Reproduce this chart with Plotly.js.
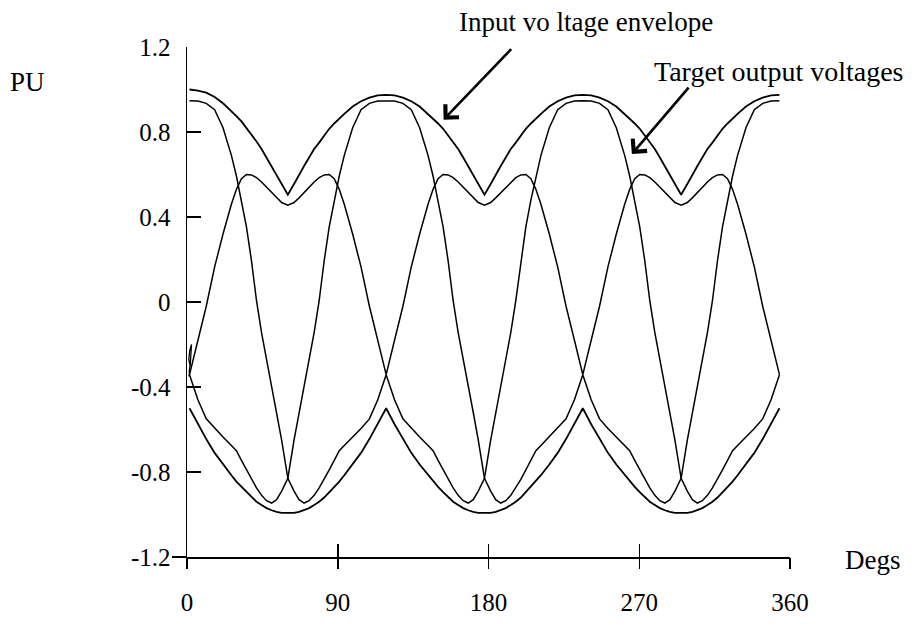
<!DOCTYPE html>
<html>
<head>
<meta charset="utf-8">
<script src="https://cdn.plot.ly/plotly-3.0.1.min.js"></script>
<style>html,body{margin:0;padding:0;background:#fff;}#chart{width:917px;height:627px;}</style>
</head>
<body>
<div id="chart"></div>
<script>
// Angle axis values (Degs)
const xDeg = [
  1.5, 6.5, 11.5, 16.5, 21.5, 26.5, 29.5, 32.5, 35.5, 38.5, 41.5, 44.5, 47.5, 50.5, 53.5, 56.5,
  60.2, 63.9, 66.9, 69.9, 72.9, 75.9, 78.9, 81.9, 84.9, 87.9, 90.9, 93.9, 98.9, 103.9, 108.9, 113.9,
  118.9, 123.9, 128.9, 133.9, 138.9, 143.9, 146.9, 149.9, 152.9, 155.9, 158.9, 161.9, 164.9, 167.9, 170.9, 173.9,
  177.6, 181.3, 184.3, 187.3, 190.3, 193.3, 196.3, 199.3, 202.3, 205.3, 208.3, 211.3, 216.3, 221.3, 226.3, 231.3,
  236.3, 241.3, 246.3, 251.3, 256.3, 261.3, 264.3, 267.3, 270.3, 273.3, 276.3, 279.3, 282.3, 285.3, 288.3, 291.3,
  295.0, 298.7, 301.7, 304.7, 307.7, 310.7, 313.7, 316.7, 319.7, 322.7, 325.7, 328.7, 333.7, 338.7, 343.7, 348.7,
  353.7
];

// Input voltage envelope (upper)
const envUpper = [
  1.0, 0.995, 0.985, 0.965, 0.935, 0.90, 0.875, 0.85, 0.82, 0.79, 0.755, 0.72, 0.68, 0.64, 0.60, 0.555,
  0.505, 0.555, 0.60, 0.64, 0.68, 0.72, 0.75, 0.785, 0.815, 0.84, 0.865, 0.885, 0.92, 0.945, 0.962, 0.972,
  0.975, 0.972, 0.962, 0.945, 0.92, 0.885, 0.865, 0.84, 0.815, 0.785, 0.75, 0.72, 0.68, 0.64, 0.60, 0.555,
  0.505, 0.555, 0.60, 0.64, 0.68, 0.72, 0.75, 0.785, 0.815, 0.84, 0.865, 0.885, 0.92, 0.945, 0.962, 0.972,
  0.975, 0.972, 0.962, 0.945, 0.92, 0.885, 0.865, 0.84, 0.815, 0.785, 0.75, 0.72, 0.68, 0.64, 0.60, 0.555,
  0.505, 0.555, 0.60, 0.64, 0.68, 0.72, 0.75, 0.785, 0.815, 0.84, 0.865, 0.885, 0.92, 0.945, 0.962, 0.972,
  0.975
];

// Input voltage envelope (lower)
const envLower = [
  -0.50, -0.575, -0.645, -0.71, -0.765, -0.815, -0.845, -0.87, -0.895, -0.92, -0.94, -0.955, -0.97, -0.98, -0.988, -0.992,
  -0.993, -0.992, -0.988, -0.98, -0.97, -0.955, -0.94, -0.92, -0.895, -0.87, -0.845, -0.815, -0.765, -0.71, -0.645, -0.575,
  -0.50, -0.575, -0.645, -0.71, -0.765, -0.815, -0.845, -0.87, -0.895, -0.92, -0.94, -0.955, -0.97, -0.98, -0.988, -0.992,
  -0.993, -0.992, -0.988, -0.98, -0.97, -0.955, -0.94, -0.92, -0.895, -0.87, -0.845, -0.815, -0.765, -0.71, -0.645, -0.575,
  -0.50, -0.575, -0.645, -0.71, -0.765, -0.815, -0.845, -0.87, -0.895, -0.92, -0.94, -0.955, -0.97, -0.98, -0.988, -0.992,
  -0.993, -0.992, -0.988, -0.98, -0.97, -0.955, -0.94, -0.92, -0.895, -0.87, -0.845, -0.815, -0.765, -0.71, -0.645, -0.575,
  -0.50
];

// Target output voltages, three phases
const outA = [
  0.947, 0.946, 0.935, 0.905, 0.82, 0.69, 0.593, 0.479, 0.354, 0.194, 0.006, -0.144, -0.266, -0.39, -0.52, -0.65,
  -0.83, -0.89, -0.93, -0.946, -0.935, -0.91, -0.875, -0.835, -0.79, -0.745, -0.70, -0.675, -0.635, -0.595, -0.55, -0.46,
  -0.342, -0.46, -0.55, -0.595, -0.635, -0.675, -0.70, -0.745, -0.79, -0.835, -0.875, -0.91, -0.935, -0.946, -0.93, -0.89,
  -0.83, -0.65, -0.52, -0.39, -0.266, -0.144, 0.006, 0.194, 0.354, 0.479, 0.593, 0.69, 0.82, 0.905, 0.935, 0.946,
  0.947, 0.946, 0.935, 0.905, 0.82, 0.69, 0.593, 0.479, 0.354, 0.194, 0.006, -0.144, -0.266, -0.39, -0.52, -0.65,
  -0.83, -0.89, -0.93, -0.946, -0.935, -0.91, -0.875, -0.835, -0.79, -0.745, -0.70, -0.675, -0.635, -0.595, -0.55, -0.46,
  -0.342
];

const outB = [
  -0.342, -0.46, -0.55, -0.595, -0.635, -0.675, -0.70, -0.745, -0.79, -0.835, -0.875, -0.91, -0.935, -0.946, -0.93, -0.89,
  -0.83, -0.65, -0.52, -0.39, -0.266, -0.144, 0.006, 0.194, 0.354, 0.479, 0.593, 0.69, 0.82, 0.905, 0.935, 0.946,
  0.947, 0.946, 0.935, 0.905, 0.82, 0.69, 0.593, 0.479, 0.354, 0.194, 0.006, -0.144, -0.266, -0.39, -0.52, -0.65,
  -0.83, -0.89, -0.93, -0.946, -0.935, -0.91, -0.875, -0.835, -0.79, -0.745, -0.70, -0.675, -0.635, -0.595, -0.55, -0.46,
  -0.342, -0.46, -0.55, -0.595, -0.635, -0.675, -0.70, -0.745, -0.79, -0.835, -0.875, -0.91, -0.935, -0.946, -0.93, -0.89,
  -0.83, -0.65, -0.52, -0.39, -0.266, -0.144, 0.006, 0.194, 0.354, 0.479, 0.593, 0.69, 0.82, 0.905, 0.935, 0.946,
  0.947
];

const outC = [
  -0.342, -0.18, -0.02, 0.165, 0.32, 0.46, 0.53, 0.58, 0.60, 0.598, 0.585, 0.565, 0.54, 0.515, 0.49, 0.468,
  0.456, 0.468, 0.49, 0.515, 0.54, 0.565, 0.585, 0.598, 0.60, 0.58, 0.53, 0.46, 0.32, 0.165, -0.02, -0.18,
  -0.342, -0.18, -0.02, 0.165, 0.32, 0.46, 0.53, 0.58, 0.60, 0.598, 0.585, 0.565, 0.54, 0.515, 0.49, 0.468,
  0.456, 0.468, 0.49, 0.515, 0.54, 0.565, 0.585, 0.598, 0.60, 0.58, 0.53, 0.46, 0.32, 0.165, -0.02, -0.18,
  -0.342, -0.18, -0.02, 0.165, 0.32, 0.46, 0.53, 0.58, 0.60, 0.598, 0.585, 0.565, 0.54, 0.515, 0.49, 0.468,
  0.456, 0.468, 0.49, 0.515, 0.54, 0.565, 0.585, 0.598, 0.60, 0.58, 0.53, 0.46, 0.32, 0.165, -0.02, -0.18,
  -0.342
];

// Start-up transient wiggle of the output traces at 0 deg
const startX = [1.2, 1.9, 2.7, 1.6, 1.1, 1.8, 1.3];
const startY = [-0.35, -0.30, -0.20, -0.23, -0.27, -0.30, -0.33];

const xTicks = [0, 90, 180, 270, 360];
const xTickText = ['0', '90', '180', '270', '360'];
const yTicks = [-1.2, -0.8, -0.4, 0, 0.4, 0.8, 1.2];
const yTickText = ['-1.2', '-0.8', '-0.4', '0', '0.4', '0.8', '1.2'];

const FONT = 'Liberation Serif, Times New Roman, serif';
const TICK_SIZE = 25;
const LABEL_SIZE = 27;

function line(x, y, w) {
  return {x: x, y: y, type: 'scatter', mode: 'lines', hoverinfo: 'skip', showlegend: false,
          line: {color: '#000', width: w}};
}

const traces = [
  line(xDeg, envUpper, 1.8),
  line(xDeg, envLower, 1.8),
  line(xDeg, outA, 1.5),
  line(xDeg, outB, 1.5),
  line(xDeg, outC, 1.5),
  line(startX, startY, 1.3),
  // helper traces so the overlay axes (outer tick halves) are drawn
  {x: [xDeg[0]], y: [envUpper[0]], xaxis: 'x2', yaxis: 'y', mode: 'lines', line: {width: 0}, hoverinfo: 'skip', showlegend: false},
  {x: [xDeg[0]], y: [envUpper[0]], xaxis: 'x', yaxis: 'y2', mode: 'lines', line: {width: 0}, hoverinfo: 'skip', showlegend: false}
];

const layout = {
  width: 917, height: 627,
  margin: {l: 187, r: 127, t: 47, b: 70, pad: 0},
  paper_bgcolor: '#fff', plot_bgcolor: '#fff',
  font: {family: FONT, size: TICK_SIZE, color: '#000'},
  xaxis: {
    range: [0, 360], tickvals: xTicks, ticktext: xTickText,
    ticks: 'inside', ticklen: 13, tickwidth: 1.5, tickcolor: '#000',
    showline: true, linecolor: '#000', linewidth: 1.5,
    showgrid: false, zeroline: false, fixedrange: true,
    tickfont: {family: FONT, size: TICK_SIZE, color: '#000'},
    ticklabelstandoff: 22
  },
  xaxis2: {
    overlaying: 'x', anchor: 'y', side: 'bottom', range: [0, 360], tickvals: xTicks,
    ticks: 'outside', ticklen: 11, tickwidth: 1.5, tickcolor: '#000',
    showticklabels: false, showline: false, showgrid: false, zeroline: false, fixedrange: true
  },
  yaxis: {
    range: [-1.2, 1.2], tickvals: yTicks, ticktext: yTickText,
    ticks: 'inside', ticklen: 14, tickwidth: 1.5, tickcolor: '#000',
    showline: true, linecolor: '#000', linewidth: 1.5,
    showgrid: false, zeroline: false, fixedrange: true,
    tickfont: {family: FONT, size: TICK_SIZE, color: '#000'},
    ticklabelstandoff: 10
  },
  yaxis2: {
    overlaying: 'y', anchor: 'x', side: 'left', range: [-1.2, 1.2], tickvals: [yTicks[0]],
    ticks: 'outside', ticklen: 14, tickwidth: 1.5, tickcolor: '#000',
    showticklabels: false, showline: false, showgrid: false, zeroline: false, fixedrange: true
  },
  annotations: [
    {text: 'PU', xref: 'paper', yref: 'paper', x: -0.265, y: 0.931, showarrow: false,
     xanchor: 'center', yanchor: 'middle', font: {family: FONT, size: LABEL_SIZE, color: '#000'}},
    {text: 'Degs', xref: 'paper', yref: 'paper', x: 1.088, y: -0.006, showarrow: false,
     xanchor: 'left', yanchor: 'middle', font: {family: FONT, size: LABEL_SIZE, color: '#000'}},
    {text: 'Input vo ltage envelope', xref: 'paper', yref: 'paper', x: 0.448, y: 1.049, showarrow: false,
     xanchor: 'left', yanchor: 'middle', font: {family: FONT, size: LABEL_SIZE, color: '#000'}},
    {text: 'Target output voltages', xref: 'paper', yref: 'paper', x: 0.771, y: 0.951, showarrow: false,
     xanchor: 'left', yanchor: 'middle', font: {family: FONT, size: 28, color: '#000'}},
    {text: '', x: 153.2, y: 0.858, xref: 'x', yref: 'y', showarrow: true, arrowhead: 4,
     arrowsize: 1.4, arrowwidth: 2.6, arrowcolor: '#000', ax: 69, ay: -72, axref: 'pixel', ayref: 'pixel'},
    {text: '', x: 265.6, y: 0.696, xref: 'x', yref: 'y', showarrow: true, arrowhead: 4,
     arrowsize: 1.4, arrowwidth: 2.6, arrowcolor: '#000', ax: 58, ay: -68, axref: 'pixel', ayref: 'pixel'}
  ]
};

Plotly.newPlot('chart', traces, layout, {staticPlot: true, displayModeBar: false});
</script>
</body>
</html>
